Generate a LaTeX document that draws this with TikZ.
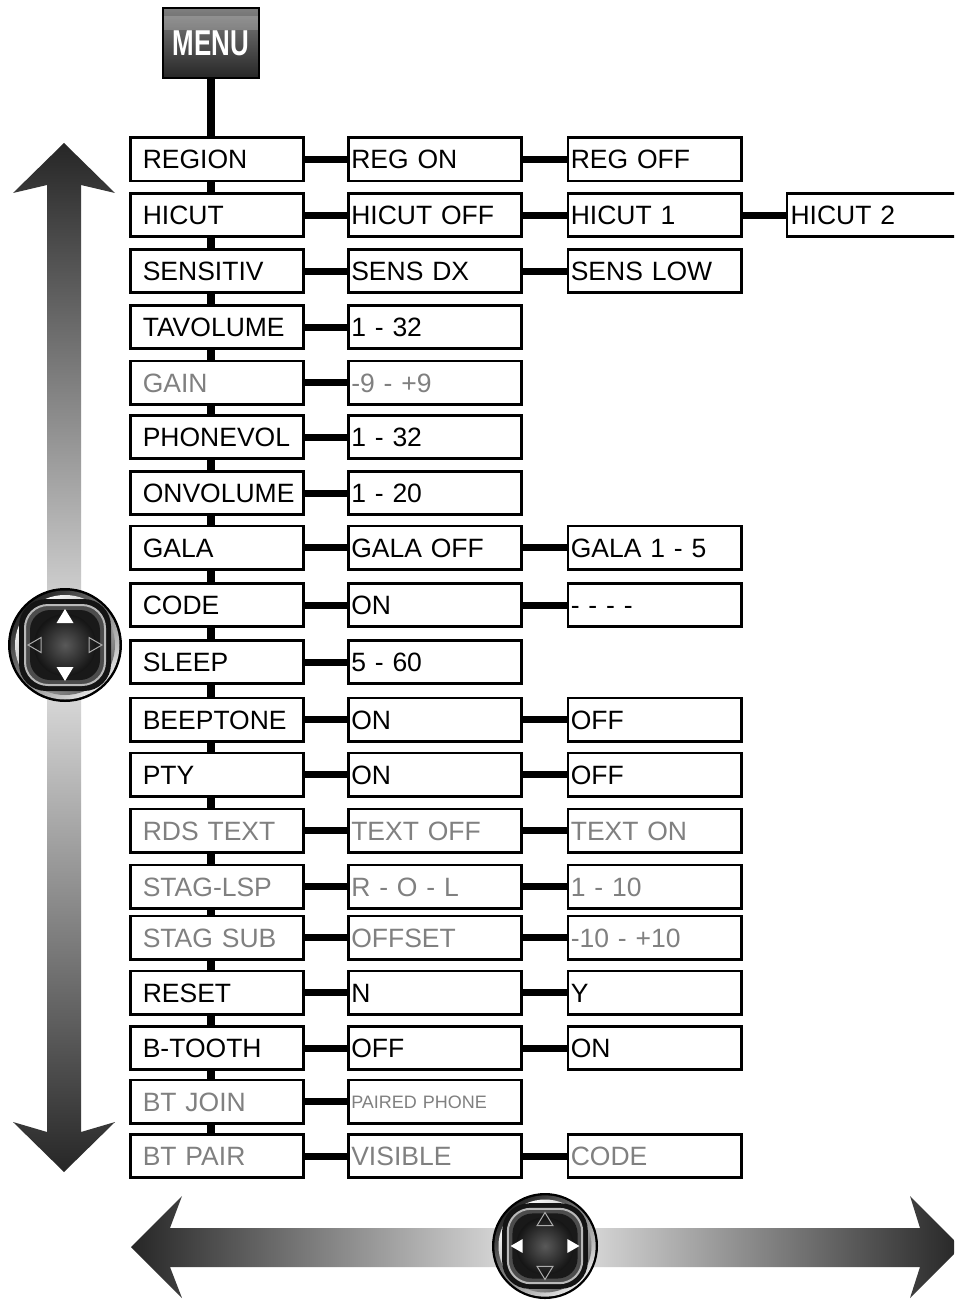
\documentclass[tikz,border=0pt]{standalone}
\usepackage{fontspec}
\setmainfont{Liberation Sans}
\definecolor{gt}{RGB}{128,128,128}
\tikzset{
  bx/.style={draw=black, line width=2.6pt, fill=white, minimum height=43.4pt,
    minimum width=173.4pt, align=left, text height=19pt, text depth=0pt,
    inner ysep=0pt, font=\fontsize{26.5}{30}\selectfont},
  cone/.style={bx, inner xsep=12.5pt, text width=148.4pt},
  cmid/.style={bx, inner xsep=3pt, text width=167.4pt},
  cfour/.style={bx, inner xsep=3.5pt, minimum width=200pt, text width=193pt},
  gr/.style={text=gt},
  hconn/.style={line width=7pt},
  vconn/.style={line width=7.5pt},
  tron/.style={fill=white},
  troff/.style={draw=gray!65, line width=1pt},
}
\newcommand\joystk[5]{%
  \begin{scope}[shift={(#1,#2)}, scale=#3]
    \fill[black] (0,0) circle (57);
    \shade[top color=black!85, bottom color=black!10, shading angle=40] (0,0) circle (54.5);
    \shade[top color=white, bottom color=black!60, shading angle=40] (0,0) circle (50);
    \fill[black!92, rounded corners=27] (-46,-46) rectangle (46,46);
    \draw[gray!55, line width=2pt, fill=black!70, rounded corners=23] (-40,-40) rectangle (40,40);
    \fill[black!90, rounded corners=20] (-35,-35) rectangle (35,35);
    \shade[inner color=black!65, outer color=black!92] (0,0) circle (31);
    \path[#4] (0,-36) -- (-8.5,-22) -- (8.5,-22) -- cycle;
    \path[#4] (0,36) -- (-8.5,22) -- (8.5,22) -- cycle;
    \path[#5] (-37,0) -- (-24,-7.5) -- (-24,7.5) -- cycle;
    \path[#5] (37,0) -- (24,-7.5) -- (24,7.5) -- cycle;
  \end{scope}}
\begin{document}
\begin{tikzpicture}[x=1pt,y=-1pt]
\clip (0,0) rectangle (954,1300);
\fill[white] (0,0) rectangle (954,1300);

% vertical double arrow
\shade[top color=black!85, bottom color=black!85, middle color=black!10]
  (64,143) -- (115,193) -- (81,185) -- (81,1132) -- (115,1122) -- (64,1172)
  -- (13,1122) -- (47,1132) -- (47,185) -- (13,193) -- cycle;
% horizontal double arrow
\shade[left color=black!85, right color=black!85, middle color=black!8]
  (131,1247) -- (182,1196) -- (170,1228) -- (920,1228) -- (910,1196) -- (961,1247)
  -- (910,1298) -- (920,1267) -- (170,1267) -- (182,1298) -- cycle;

\joystk{65}{645}{1}{tron}{troff}
\joystk{545}{1246}{0.93}{troff}{tron}

% MENU button
\node[draw=black, line width=1.5pt, minimum width=96pt, minimum height=70pt,
  top color=black!50, bottom color=black!85, text=white,
  font=\bfseries\fontsize{36}{36}\selectfont] (menu) at (211,43) {\scalebox{0.72}[1]{MENU}};
\fill[white, opacity=0.2] (164,16) rectangle (258,30);

% column 1
\node[cone] (a0) at (217,159.5) {REGION};
\node[cone] (a1) at (217,215) {HICUT};
\node[cone] (a2) at (217,271) {SENSITIV};
\node[cone] (a3) at (217,327) {TAVOLUME};
\node[cone,gr] (a4) at (217,382.5) {GAIN};
\node[cone] (a5) at (217,437) {PHONEVOL};
\node[cone] (a6) at (217,493) {ONVOLUME};
\node[cone] (a7) at (217,547.5) {GALA};
\node[cone] (a8) at (217,605) {CODE};
\node[cone] (a9) at (217,662) {SLEEP};
\node[cone] (a10) at (217,719.5) {BEEPTONE};
\node[cone] (a11) at (217,774.5) {PTY};
\node[cone,gr] (a12) at (217,830.5) {RDS TEXT};
\node[cone,gr] (a13) at (217,886.5) {STAG-LSP};
\node[cone,gr] (a14) at (217,937.5) {STAG SUB};
\node[cone] (a15) at (217,992.5) {RESET};
\node[cone] (a16) at (217,1048) {B-TOOTH};
\node[cone,gr] (a17) at (217,1101.5) {BT JOIN};
\node[cone,gr] (a18) at (217,1156) {BT PAIR};

% column 2
\node[cmid] (b0) at (435,159.5) {REG ON};
\node[cmid] (b1) at (435,215) {HICUT OFF};
\node[cmid] (b2) at (435,271) {SENS DX};
\node[cmid] (b3) at (435,327) {1 - 32};
\node[cmid,gr] (b4) at (435,382.5) {-9 - +9};
\node[cmid] (b5) at (435,437) {1 - 32};
\node[cmid] (b6) at (435,493) {1 - 20};
\node[cmid] (b7) at (435,547.5) {GALA OFF};
\node[cmid] (b8) at (435,605) {ON};
\node[cmid] (b9) at (435,662) {5 - 60};
\node[cmid] (b10) at (435,719.5) {ON};
\node[cmid] (b11) at (435,774.5) {ON};
\node[cmid,gr] (b12) at (435,830.5) {TEXT OFF};
\node[cmid,gr] (b13) at (435,886.5) {R - O - L};
\node[cmid,gr] (b14) at (435,937.5) {OFFSET};
\node[cmid] (b15) at (435,992.5) {N};
\node[cmid] (b16) at (435,1048) {OFF};
\node[cmid,gr,font=\fontsize{18}{20}\selectfont,text height=13pt] (b17) at (435,1101.5) {PAIRED PHONE};
\node[cmid,gr] (b18) at (435,1156) {VISIBLE};

% column 3
\node[cmid] (c0) at (654.5,159.5) {REG OFF};
\node[cmid] (c1) at (654.5,215) {HICUT 1};
\node[cmid] (c2) at (654.5,271) {SENS LOW};
\node[cmid] (c7) at (654.5,547.5) {GALA 1 - 5};
\node[cmid] (c8) at (654.5,605) {- - - -};
\node[cmid] (c10) at (654.5,719.5) {OFF};
\node[cmid] (c11) at (654.5,774.5) {OFF};
\node[cmid,gr] (c12) at (654.5,830.5) {TEXT ON};
\node[cmid,gr] (c13) at (654.5,886.5) {1 - 10};
\node[cmid,gr] (c14) at (654.5,937.5) {-10 - +10};
\node[cmid] (c15) at (654.5,992.5) {Y};
\node[cmid] (c16) at (654.5,1048) {ON};
\node[cmid,gr] (c18) at (654.5,1156) {CODE};

% column 4
\node[cfour] (d1) at (887,215) {HICUT 2};

% connectors
\draw[vconn] (menu.south) -- (menu.south |- a0.north);
\foreach \i [count=\j from 1] in {0,...,17}
  \draw[vconn] (menu.south |- a\i.south) -- (menu.south |- a\j.north);
\foreach \i in {0,...,18}
  \draw[hconn] (a\i.east) -- (b\i.west);
\foreach \i in {0,1,2,7,8,10,11,12,13,14,15,16,18}
  \draw[hconn] (b\i.east) -- (c\i.west);
\draw[hconn] (c1.east) -- (d1.west);
\end{tikzpicture}
\end{document}
